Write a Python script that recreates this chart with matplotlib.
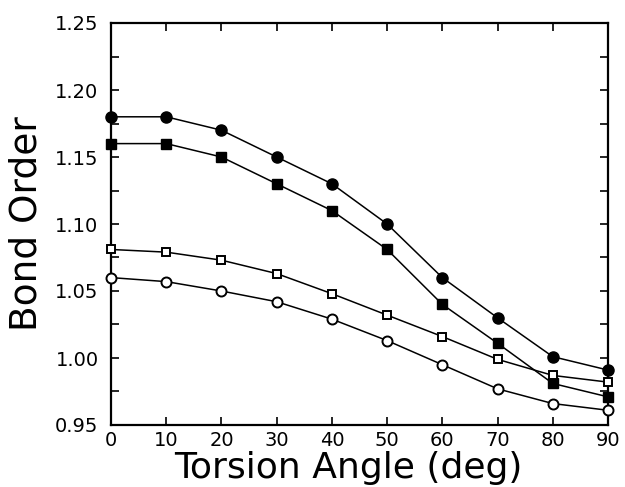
import matplotlib
matplotlib.use('Agg')
import matplotlib.pyplot as plt
from matplotlib.ticker import MultipleLocator

# data
angle = [0, 10, 20, 30, 40, 50, 60, 70, 80, 90]
filled_circle = [1.180, 1.180, 1.170, 1.150, 1.130, 1.100, 1.060, 1.030, 1.001, 0.991]
filled_square = [1.160, 1.160, 1.150, 1.130, 1.110, 1.081, 1.040, 1.011, 0.981, 0.971]
open_square = [1.081, 1.079, 1.073, 1.063, 1.048, 1.032, 1.016, 0.999, 0.987, 0.982]
open_circle = [1.060, 1.057, 1.050, 1.042, 1.029, 1.013, 0.995, 0.977, 0.966, 0.961]

xticks = [0, 10, 20, 30, 40, 50, 60, 70, 80, 90]
yticks = [0.95, 1.00, 1.05, 1.10, 1.15, 1.20, 1.25]

plt.rcParams['font.family'] = ['DejaVu Sans']

fig = plt.figure(figsize=(6.25, 4.87), dpi=100)
# axes box: x 111..608 px, y 23..425 px
ax = fig.add_axes([111 / 625, (487 - 425) / 487, 497 / 625, 402 / 487])

lw = 1.1
ax.plot(angle, filled_circle, '-o', color='black', lw=lw, ms=8, mfc='black', clip_on=False, zorder=3)
ax.plot(angle, filled_square, '-s', color='black', lw=lw, ms=7.2, mfc='black', clip_on=False, zorder=3)
ax.plot(angle, open_square, '-s', color='black', lw=lw, ms=5.8, mfc='white', mew=1.4, clip_on=False, zorder=3)
ax.plot(angle, open_circle, '-o', color='black', lw=lw, ms=7.2, mfc='white', mew=1.4, clip_on=False, zorder=3)

ax.set_xlim(0, 90)
ax.set_ylim(0.95, 1.25)
ax.set_xticks(xticks)
ax.set_xticklabels([str(v) for v in xticks])
ax.set_yticks(yticks)
ax.set_yticklabels(['%.2f' % v for v in yticks])
ax.yaxis.set_minor_locator(MultipleLocator(0.025))

ax.tick_params(which='both', direction='in', top=True, right=True, length=6, width=1.2)
ax.tick_params(axis='x', labelsize=14, pad=4)
ax.tick_params(axis='y', labelsize=14, pad=9)
for s in ax.spines.values():
    s.set_linewidth(1.6)

ax.set_xlabel('Torsion Angle (deg)', fontsize=26)
ax.xaxis.label.set_verticalalignment('baseline')
ax.xaxis.set_label_coords(0.477, (425 - 478) / 402)

ax.set_ylabel('Bond Order', fontsize=27)
ax.yaxis.label.set_verticalalignment('baseline')
ax.yaxis.set_label_coords((37 - 111) / 497, 0.5)

fig.savefig('out.png', dpi=100)
